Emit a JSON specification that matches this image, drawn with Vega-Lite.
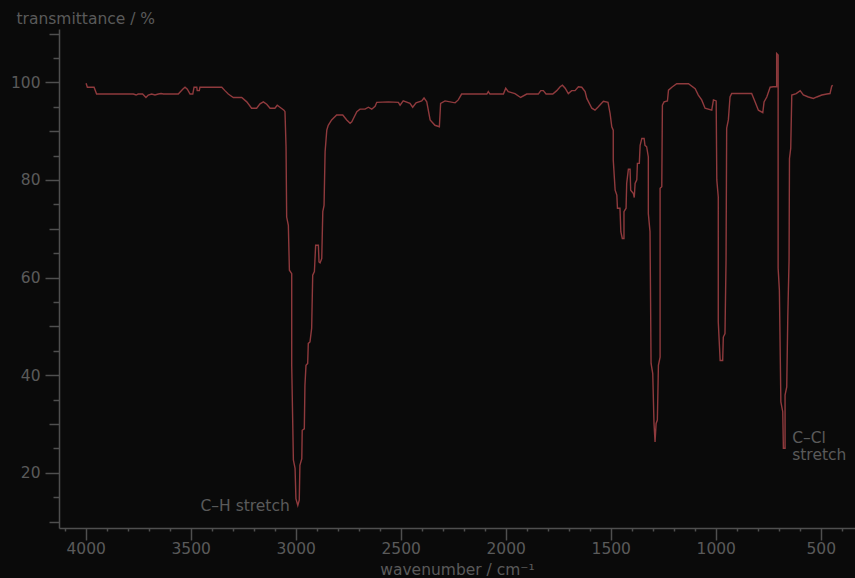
{
  "$schema": "https://vega.github.io/schema/vega-lite/v6.json",
  "width": 796,
  "height": 499,
  "autosize": {"type": "none"},
  "padding": {"left": 59, "top": 29, "right": 0, "bottom": 50},
  "background": "#0a0a0a",
  "config": {
    "view": {"stroke": null},
    "font": "DejaVu Sans",
    "axis": {
      "grid": false,
      "domainColor": "#4f4f4f",
      "domainWidth": 1.5,
      "tickColor": "#4f4f4f",
      "tickWidth": 1.5,
      "labelColor": "#5a5a5a",
      "titleColor": "#5a5a5a",
      "labelFont": "DejaVu Sans",
      "titleFont": "DejaVu Sans",
      "labelFontSize": 15.5,
      "titleFontSize": 15.5,
      "titleFontWeight": "normal",
      "labelOverlap": false,
      "labelFlush": false
    }
  },
  "datasets": {
    "spectrum": [
      {"wavenumber": 3998, "transmittance": 99.8},
      {"wavenumber": 3992, "transmittance": 99.0},
      {"wavenumber": 3960, "transmittance": 99.0},
      {"wavenumber": 3948, "transmittance": 97.6},
      {"wavenumber": 3773, "transmittance": 97.6},
      {"wavenumber": 3760, "transmittance": 97.4},
      {"wavenumber": 3750, "transmittance": 97.6},
      {"wavenumber": 3729, "transmittance": 97.6},
      {"wavenumber": 3713, "transmittance": 96.9},
      {"wavenumber": 3702, "transmittance": 97.4},
      {"wavenumber": 3686, "transmittance": 97.6},
      {"wavenumber": 3670, "transmittance": 97.4},
      {"wavenumber": 3654, "transmittance": 97.6},
      {"wavenumber": 3641, "transmittance": 97.7},
      {"wavenumber": 3630, "transmittance": 97.6},
      {"wavenumber": 3559, "transmittance": 97.6},
      {"wavenumber": 3538, "transmittance": 98.6},
      {"wavenumber": 3527, "transmittance": 99.0},
      {"wavenumber": 3516, "transmittance": 98.6},
      {"wavenumber": 3503, "transmittance": 97.6},
      {"wavenumber": 3490, "transmittance": 97.6},
      {"wavenumber": 3484, "transmittance": 99.0},
      {"wavenumber": 3471, "transmittance": 99.0},
      {"wavenumber": 3469, "transmittance": 98.3},
      {"wavenumber": 3459, "transmittance": 98.3},
      {"wavenumber": 3456, "transmittance": 99.0},
      {"wavenumber": 3352, "transmittance": 99.0},
      {"wavenumber": 3337, "transmittance": 98.3},
      {"wavenumber": 3321, "transmittance": 97.6},
      {"wavenumber": 3297, "transmittance": 96.9},
      {"wavenumber": 3257, "transmittance": 96.9},
      {"wavenumber": 3233, "transmittance": 96.0},
      {"wavenumber": 3210, "transmittance": 94.7},
      {"wavenumber": 3186, "transmittance": 94.7},
      {"wavenumber": 3170, "transmittance": 95.6},
      {"wavenumber": 3154, "transmittance": 96.0},
      {"wavenumber": 3138, "transmittance": 95.5},
      {"wavenumber": 3122, "transmittance": 94.7},
      {"wavenumber": 3099, "transmittance": 94.7},
      {"wavenumber": 3088, "transmittance": 95.3},
      {"wavenumber": 3075, "transmittance": 94.9},
      {"wavenumber": 3056, "transmittance": 94.3},
      {"wavenumber": 3051, "transmittance": 94.0},
      {"wavenumber": 3046, "transmittance": 86.8},
      {"wavenumber": 3043, "transmittance": 72.4},
      {"wavenumber": 3035, "transmittance": 70.7},
      {"wavenumber": 3030, "transmittance": 61.5},
      {"wavenumber": 3019, "transmittance": 60.8},
      {"wavenumber": 3019, "transmittance": 42.0},
      {"wavenumber": 3011, "transmittance": 22.6},
      {"wavenumber": 3003, "transmittance": 20.9},
      {"wavenumber": 2999, "transmittance": 14.7},
      {"wavenumber": 2990, "transmittance": 13.3},
      {"wavenumber": 2983, "transmittance": 14.4},
      {"wavenumber": 2980, "transmittance": 21.5},
      {"wavenumber": 2971, "transmittance": 22.9},
      {"wavenumber": 2969, "transmittance": 28.7},
      {"wavenumber": 2959, "transmittance": 29.0},
      {"wavenumber": 2956, "transmittance": 37.9},
      {"wavenumber": 2951, "transmittance": 42.0},
      {"wavenumber": 2943, "transmittance": 42.4},
      {"wavenumber": 2940, "transmittance": 46.5},
      {"wavenumber": 2932, "transmittance": 46.8},
      {"wavenumber": 2924, "transmittance": 49.6},
      {"wavenumber": 2919, "transmittance": 60.5},
      {"wavenumber": 2911, "transmittance": 61.2},
      {"wavenumber": 2905, "transmittance": 66.6},
      {"wavenumber": 2892, "transmittance": 66.6},
      {"wavenumber": 2889, "transmittance": 63.2},
      {"wavenumber": 2884, "transmittance": 63.0},
      {"wavenumber": 2876, "transmittance": 63.9},
      {"wavenumber": 2871, "transmittance": 73.5},
      {"wavenumber": 2865, "transmittance": 74.8},
      {"wavenumber": 2860, "transmittance": 85.8},
      {"wavenumber": 2852, "transmittance": 90.2},
      {"wavenumber": 2845, "transmittance": 91.2},
      {"wavenumber": 2829, "transmittance": 92.3},
      {"wavenumber": 2805, "transmittance": 93.3},
      {"wavenumber": 2776, "transmittance": 93.3},
      {"wavenumber": 2757, "transmittance": 92.3},
      {"wavenumber": 2741, "transmittance": 91.6},
      {"wavenumber": 2733, "transmittance": 91.9},
      {"wavenumber": 2709, "transmittance": 94.0},
      {"wavenumber": 2694, "transmittance": 94.5},
      {"wavenumber": 2670, "transmittance": 94.5},
      {"wavenumber": 2654, "transmittance": 94.9},
      {"wavenumber": 2638, "transmittance": 94.5},
      {"wavenumber": 2622, "transmittance": 95.1},
      {"wavenumber": 2614, "transmittance": 95.9},
      {"wavenumber": 2559, "transmittance": 96.0},
      {"wavenumber": 2511, "transmittance": 95.9},
      {"wavenumber": 2503, "transmittance": 95.3},
      {"wavenumber": 2488, "transmittance": 96.2},
      {"wavenumber": 2456, "transmittance": 95.7},
      {"wavenumber": 2443, "transmittance": 94.9},
      {"wavenumber": 2427, "transmittance": 95.8},
      {"wavenumber": 2400, "transmittance": 96.2},
      {"wavenumber": 2389, "transmittance": 96.8},
      {"wavenumber": 2376, "transmittance": 96.0},
      {"wavenumber": 2360, "transmittance": 92.3},
      {"wavenumber": 2337, "transmittance": 91.2},
      {"wavenumber": 2316, "transmittance": 90.9},
      {"wavenumber": 2310, "transmittance": 95.7},
      {"wavenumber": 2289, "transmittance": 96.2},
      {"wavenumber": 2241, "transmittance": 95.8},
      {"wavenumber": 2226, "transmittance": 96.4},
      {"wavenumber": 2210, "transmittance": 97.6},
      {"wavenumber": 2090, "transmittance": 97.6},
      {"wavenumber": 2083, "transmittance": 98.1},
      {"wavenumber": 2075, "transmittance": 97.6},
      {"wavenumber": 2011, "transmittance": 97.6},
      {"wavenumber": 2000, "transmittance": 98.8},
      {"wavenumber": 1988, "transmittance": 98.1},
      {"wavenumber": 1956, "transmittance": 97.7},
      {"wavenumber": 1929, "transmittance": 96.9},
      {"wavenumber": 1900, "transmittance": 97.6},
      {"wavenumber": 1845, "transmittance": 97.6},
      {"wavenumber": 1833, "transmittance": 98.3},
      {"wavenumber": 1821, "transmittance": 98.3},
      {"wavenumber": 1808, "transmittance": 97.6},
      {"wavenumber": 1776, "transmittance": 97.6},
      {"wavenumber": 1757, "transmittance": 98.3},
      {"wavenumber": 1741, "transmittance": 99.1},
      {"wavenumber": 1730, "transmittance": 99.4},
      {"wavenumber": 1717, "transmittance": 98.8},
      {"wavenumber": 1702, "transmittance": 97.7},
      {"wavenumber": 1686, "transmittance": 98.3},
      {"wavenumber": 1670, "transmittance": 98.3},
      {"wavenumber": 1654, "transmittance": 99.1},
      {"wavenumber": 1638, "transmittance": 99.0},
      {"wavenumber": 1622, "transmittance": 98.1},
      {"wavenumber": 1614, "transmittance": 96.7},
      {"wavenumber": 1590, "transmittance": 94.7},
      {"wavenumber": 1575, "transmittance": 94.3},
      {"wavenumber": 1559, "transmittance": 95.0},
      {"wavenumber": 1535, "transmittance": 96.1},
      {"wavenumber": 1513, "transmittance": 95.9},
      {"wavenumber": 1503, "transmittance": 93.6},
      {"wavenumber": 1495, "transmittance": 90.9},
      {"wavenumber": 1488, "transmittance": 90.2},
      {"wavenumber": 1488, "transmittance": 84.1},
      {"wavenumber": 1479, "transmittance": 77.9},
      {"wavenumber": 1471, "transmittance": 76.9},
      {"wavenumber": 1468, "transmittance": 74.2},
      {"wavenumber": 1456, "transmittance": 74.2},
      {"wavenumber": 1452, "transmittance": 69.4},
      {"wavenumber": 1445, "transmittance": 68.0},
      {"wavenumber": 1437, "transmittance": 68.0},
      {"wavenumber": 1437, "transmittance": 73.5},
      {"wavenumber": 1427, "transmittance": 74.2},
      {"wavenumber": 1424, "transmittance": 79.3},
      {"wavenumber": 1416, "transmittance": 82.2},
      {"wavenumber": 1408, "transmittance": 82.2},
      {"wavenumber": 1405, "transmittance": 77.9},
      {"wavenumber": 1392, "transmittance": 77.2},
      {"wavenumber": 1388, "transmittance": 76.4},
      {"wavenumber": 1384, "transmittance": 79.3},
      {"wavenumber": 1376, "transmittance": 80.0},
      {"wavenumber": 1373, "transmittance": 83.4},
      {"wavenumber": 1364, "transmittance": 83.4},
      {"wavenumber": 1360, "transmittance": 87.1},
      {"wavenumber": 1352, "transmittance": 88.5},
      {"wavenumber": 1341, "transmittance": 88.5},
      {"wavenumber": 1337, "transmittance": 87.1},
      {"wavenumber": 1329, "transmittance": 86.8},
      {"wavenumber": 1321, "transmittance": 84.7},
      {"wavenumber": 1321, "transmittance": 73.1},
      {"wavenumber": 1313, "transmittance": 69.4},
      {"wavenumber": 1308, "transmittance": 42.4},
      {"wavenumber": 1300, "transmittance": 40.3},
      {"wavenumber": 1294, "transmittance": 30.1},
      {"wavenumber": 1289, "transmittance": 26.3},
      {"wavenumber": 1284, "transmittance": 30.1},
      {"wavenumber": 1278, "transmittance": 30.8},
      {"wavenumber": 1273, "transmittance": 42.0},
      {"wavenumber": 1265, "transmittance": 43.7},
      {"wavenumber": 1265, "transmittance": 78.3},
      {"wavenumber": 1257, "transmittance": 78.6},
      {"wavenumber": 1254, "transmittance": 95.3},
      {"wavenumber": 1246, "transmittance": 96.0},
      {"wavenumber": 1230, "transmittance": 96.2},
      {"wavenumber": 1225, "transmittance": 98.4},
      {"wavenumber": 1209, "transmittance": 99.0},
      {"wavenumber": 1186, "transmittance": 99.7},
      {"wavenumber": 1130, "transmittance": 99.7},
      {"wavenumber": 1098, "transmittance": 98.7},
      {"wavenumber": 1083, "transmittance": 97.4},
      {"wavenumber": 1067, "transmittance": 96.4},
      {"wavenumber": 1051, "transmittance": 94.7},
      {"wavenumber": 1019, "transmittance": 94.3},
      {"wavenumber": 1011, "transmittance": 96.4},
      {"wavenumber": 998, "transmittance": 96.2},
      {"wavenumber": 995, "transmittance": 80.0},
      {"wavenumber": 988, "transmittance": 76.5},
      {"wavenumber": 988, "transmittance": 50.9},
      {"wavenumber": 979, "transmittance": 43.0},
      {"wavenumber": 967, "transmittance": 43.0},
      {"wavenumber": 964, "transmittance": 47.8},
      {"wavenumber": 956, "transmittance": 48.5},
      {"wavenumber": 951, "transmittance": 63.6},
      {"wavenumber": 948, "transmittance": 90.6},
      {"wavenumber": 940, "transmittance": 92.3},
      {"wavenumber": 932, "transmittance": 97.0},
      {"wavenumber": 924, "transmittance": 97.7},
      {"wavenumber": 829, "transmittance": 97.7},
      {"wavenumber": 813, "transmittance": 96.0},
      {"wavenumber": 797, "transmittance": 94.3},
      {"wavenumber": 776, "transmittance": 93.8},
      {"wavenumber": 770, "transmittance": 96.0},
      {"wavenumber": 757, "transmittance": 97.0},
      {"wavenumber": 741, "transmittance": 99.0},
      {"wavenumber": 726, "transmittance": 99.1},
      {"wavenumber": 710, "transmittance": 99.1},
      {"wavenumber": 710, "transmittance": 105.9},
      {"wavenumber": 703, "transmittance": 105.6},
      {"wavenumber": 703, "transmittance": 61.9},
      {"wavenumber": 697, "transmittance": 57.4},
      {"wavenumber": 690, "transmittance": 34.5},
      {"wavenumber": 681, "transmittance": 32.5},
      {"wavenumber": 678, "transmittance": 25.0},
      {"wavenumber": 670, "transmittance": 25.0},
      {"wavenumber": 670, "transmittance": 35.9},
      {"wavenumber": 662, "transmittance": 37.6},
      {"wavenumber": 657, "transmittance": 51.9},
      {"wavenumber": 651, "transmittance": 63.6},
      {"wavenumber": 649, "transmittance": 84.4},
      {"wavenumber": 643, "transmittance": 86.5},
      {"wavenumber": 638, "transmittance": 97.4},
      {"wavenumber": 617, "transmittance": 97.7},
      {"wavenumber": 598, "transmittance": 98.3},
      {"wavenumber": 583, "transmittance": 97.4},
      {"wavenumber": 559, "transmittance": 97.0},
      {"wavenumber": 535, "transmittance": 96.7},
      {"wavenumber": 519, "transmittance": 97.0},
      {"wavenumber": 495, "transmittance": 97.4},
      {"wavenumber": 471, "transmittance": 97.6},
      {"wavenumber": 456, "transmittance": 97.7},
      {"wavenumber": 448, "transmittance": 99.2},
      {"wavenumber": 443, "transmittance": 99.4}
    ],
    "bands": [
      {"wavenumber": 2990, "transmittance": 13.3, "label": "C–H stretch", "side": "left"},
      {"wavenumber": 674, "transmittance": 25.0, "label": "C–Cl\nstretch", "side": "right"}
    ]
  },
  "encoding": {
    "x": {
      "field": "wavenumber",
      "type": "quantitative",
      "scale": {"domain": [337, 4127], "reverse": true, "nice": false, "zero": false},
      "axis": {
        "title": "wavenumber / cm⁻¹",
        "values": [4100, 4000, 3900, 3800, 3700, 3600, 3500, 3400, 3300, 3200, 3100, 3000, 2900, 2800, 2700, 2600, 2500, 2400, 2300, 2200, 2100, 2000, 1900, 1800, 1700, 1600, 1500, 1400, 1300, 1200, 1100, 1000, 900, 800, 700, 600, 500, 400],
        "format": "d",
        "labelExpr": "datum.value % 500 === 0 ? datum.label : ''",
        "tickSize": {"expr": "datum.value % 500 === 0 ? 12 : 3"},
        "labelPadding": 1.5,
        "titleBaseline": "alphabetic",
        "titleY": 46
      }
    },
    "y": {
      "field": "transmittance",
      "type": "quantitative",
      "scale": {"domain": [8.67, 110.93], "nice": false, "zero": false},
      "axis": {
        "title": "transmittance / %",
        "values": [10, 15, 20, 25, 30, 35, 40, 45, 50, 55, 60, 65, 70, 75, 80, 85, 90, 95, 100, 105, 110],
        "labelExpr": "datum.value % 20 === 0 ? datum.label : ''",
        "tickSize": {"expr": "datum.value % 20 === 0 ? 14 : (datum.value % 10 === 0 ? 10 : 6)"},
        "labelPadding": 5,
        "titleAngle": 0,
        "titleAlign": "left",
        "titleBaseline": "alphabetic",
        "titleX": -43,
        "titleY": -6
      }
    }
  },
  "layer": [
    {
      "data": {"name": "spectrum"},
      "mark": {"type": "line", "color": "#8f3a3d", "strokeWidth": 1.4, "clip": true},
      "encoding": {"order": {"value": null}}
    },
    {
      "data": {"name": "bands"},
      "transform": [{"filter": "datum.side === 'left'"}],
      "mark": {"type": "text", "align": "right", "baseline": "alphabetic", "dx": -8, "dy": 6, "fontSize": 15.5, "font": "DejaVu Sans", "color": "#5a5a5a"},
      "encoding": {"text": {"field": "label"}}
    },
    {
      "data": {"name": "bands"},
      "transform": [{"filter": "datum.side === 'right'"}],
      "mark": {"type": "text", "align": "left", "baseline": "alphabetic", "dx": 8, "dy": -5, "lineBreak": "\n", "lineHeight": 17, "fontSize": 15.5, "font": "DejaVu Sans", "color": "#5a5a5a"},
      "encoding": {"text": {"field": "label"}}
    }
  ]
}
